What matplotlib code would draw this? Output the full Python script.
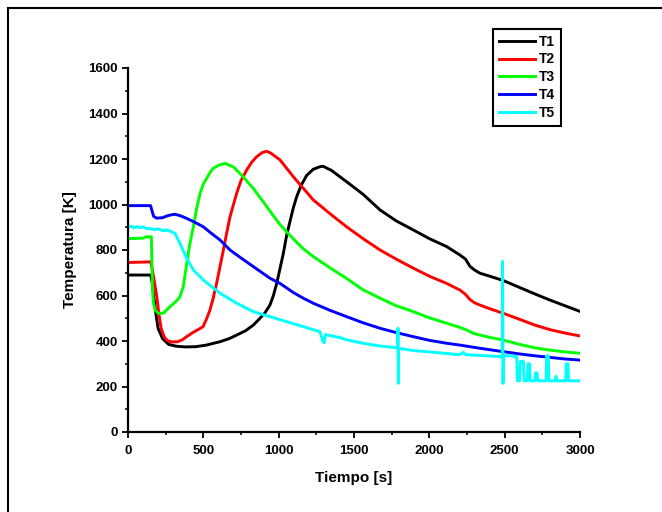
import matplotlib
matplotlib.use("Agg")
import matplotlib.pyplot as plt
from matplotlib.patches import Rectangle
from matplotlib.ticker import MultipleLocator

plt.rcParams['font.family'] = ['Liberation Sans', 'DejaVu Sans']
plt.rcParams['font.weight'] = 'bold'

# Thermocouple readings: (time [s], temperature [K])
T1_points = [(0, 690), (150, 690), (160, 660), (170, 600), (185, 520), (200, 455), (230, 410),
             (270, 385), (320, 377), (380, 374), (450, 375), (520, 382), (611, 397), (670, 410),
             (721, 426), (780, 445), (832, 470), (876, 500), (910, 525), (942, 558), (965, 600),
             (987, 653), (1009, 719), (1031, 785), (1053, 865), (1075, 925), (1097, 985),
             (1120, 1035), (1150, 1085), (1186, 1128), (1230, 1155), (1274, 1166), (1295, 1168),
             (1350, 1150), (1451, 1100), (1560, 1045), (1673, 976), (1780, 928), (1894, 888),
             (2000, 850), (2115, 815), (2203, 778), (2240, 760), (2270, 728), (2300, 712),
             (2336, 698), (2400, 685), (2490, 666), (2600, 635), (2700, 607), (2800, 580),
             (2900, 555), (3000, 530)]

T2_points = [(0, 745), (150, 748), (160, 720), (175, 660), (190, 600), (205, 520), (220, 455),
             (240, 418), (260, 402), (290, 396), (330, 397), (360, 405), (389, 419), (430, 437),
             (470, 452), (498, 463), (520, 495), (544, 536), (566, 590), (588, 653), (610, 725),
             (633, 800), (655, 875), (677, 946), (700, 1000), (721, 1049), (750, 1105),
             (788, 1152), (820, 1185), (854, 1210), (890, 1228), (920, 1234), (950, 1225),
             (980, 1210), (1009, 1196), (1100, 1120), (1230, 1020), (1340, 960), (1451, 902),
             (1560, 850), (1673, 800), (1780, 760), (1894, 720), (2000, 685), (2115, 653),
             (2203, 624), (2240, 605), (2270, 582), (2300, 568), (2336, 558), (2400, 542),
             (2490, 522), (2600, 495), (2700, 470), (2800, 450), (2900, 435), (3000, 422)]

T3_points = [(0, 850), (100, 852), (120, 858), (155, 858), (158, 760), (162, 640), (168, 570),
             (180, 535), (200, 522), (235, 522), (279, 551), (320, 575), (345, 595), (367, 639),
             (390, 741), (411, 829), (434, 902), (455, 980), (478, 1049), (500, 1090),
             (522, 1115), (544, 1140), (566, 1159), (600, 1172), (644, 1181), (700, 1165),
             (760, 1125), (832, 1070), (900, 1010), (960, 955), (1009, 912), (1053, 880),
             (1110, 840), (1164, 805), (1230, 771), (1340, 722), (1451, 675), (1560, 625),
             (1673, 588), (1780, 555), (1894, 529), (2000, 502), (2115, 478), (2203, 460),
             (2250, 448), (2290, 434), (2336, 426), (2400, 416), (2490, 404), (2600, 385),
             (2700, 370), (2800, 360), (2900, 352), (3000, 346)]

T4_points = [(0, 995), (150, 995), (158, 975), (170, 948), (190, 940), (230, 942), (260, 950),
             (290, 955), (312, 957), (350, 950), (389, 939), (434, 925), (500, 902), (550, 875),
             (611, 844), (677, 800), (750, 765), (832, 727), (942, 676), (1009, 653),
             (1100, 612), (1164, 588), (1230, 566), (1340, 535), (1451, 507), (1560, 480),
             (1673, 456), (1780, 437), (1894, 419), (2000, 403), (2115, 390), (2203, 382),
             (2336, 368), (2450, 357), (2600, 343), (2700, 335), (2800, 328), (2900, 321),
             (3000, 316)]

T5_points = [(0, 900), (20, 905), (40, 897), (60, 903), (80, 898), (100, 902), (120, 895),
             (150, 893), (180, 890), (200, 893), (230, 885), (260, 888), (290, 880), (312, 873),
             (345, 829), (390, 763), (434, 712), (500, 668), (611, 610), (721, 566), (832, 529),
             (942, 507), (1053, 485), (1164, 463), (1274, 441), (1296, 395), (1302, 392),
             (1310, 428), (1407, 415), (1451, 405), (1560, 390), (1673, 378), (1790, 370),
             (1792, 456), (1794, 214), (1796, 368), (1894, 358), (2000, 352), (2115, 345),
             (2203, 340), (2225, 350), (2240, 340), (2350, 336), (2456, 332), (2484, 330),
             (2486, 750), (2489, 214), (2492, 335), (2540, 335), (2580, 330), (2584, 225),
             (2600, 225), (2604, 310), (2625, 310), (2629, 225), (2650, 225), (2654, 300),
             (2665, 300), (2669, 225), (2700, 225), (2704, 260), (2715, 260), (2719, 225),
             (2775, 225), (2779, 335), (2790, 335), (2794, 225), (2835, 225), (2840, 245),
             (2845, 225), (2905, 225), (2909, 300), (2920, 300), (2924, 225), (3000, 225)]

series = [T1_points, T2_points, T3_points, T4_points, T5_points]
labels = ['T1', 'T2', 'T3', 'T4', 'T5']
colors = ['#000000', '#ff0000', '#00ff00', '#0000ff', '#00ffff']

x_ticks = [0, 500, 1000, 1500, 2000, 2500, 3000]
y_ticks = [0, 200, 400, 600, 800, 1000, 1200, 1400, 1600]

W, H = 662, 512
fig = plt.figure(figsize=(W / 100, H / 100), dpi=100)
ax = fig.add_axes([128 / W, 1 - 432 / H, 452 / W, 364 / H])

handles = []
for pts, lab, col in zip(series, labels, colors):
    t, v = zip(*pts)
    h, = ax.plot(t, v, color=col, lw=2.1, label=lab)
    handles.append(h)

ax.set_xlim(0, 3000)
ax.set_ylim(0, 1600)
ax.set_xticks(x_ticks)
ax.set_yticks(y_ticks)
ax.xaxis.set_minor_locator(MultipleLocator(250))
ax.yaxis.set_minor_locator(MultipleLocator(100))

for side in ('top', 'right'):
    ax.spines[side].set_visible(False)
for side in ('left', 'bottom'):
    ax.spines[side].set_linewidth(1.6)

ax.tick_params(which='major', direction='out', length=4.5, width=1.3,
               labelsize=9.5, pad=3)
ax.tick_params(axis='x', which='major', pad=5)
ax.tick_params(which='minor', direction='out', length=2.5, width=1.1)

ax.set_xlabel('Tiempo [s]', fontsize=11, fontweight='bold', labelpad=10)
ax.set_ylabel('Temperatura [K]', fontsize=11, fontweight='bold', labelpad=8)

leg = fig.legend(handles, labels, loc='upper left',
                 bbox_to_anchor=(493 / W, 1 - 29 / H), bbox_transform=fig.transFigure,
                 frameon=True, fancybox=False, edgecolor='black', framealpha=1,
                 handlelength=2.6, handletextpad=0.3, labelspacing=0.28,
                 borderpad=0.4, borderaxespad=0,
                 prop={'weight': 'bold', 'size': 10})
leg.get_frame().set_linewidth(1.5)

# outer frame around the graph page
fig.add_artist(Rectangle((8 / W, -0.05), 1.0, 1 - 8 / H + 0.05,
                         transform=fig.transFigure, fill=False,
                         edgecolor='black', lw=1.5, clip_on=False))

fig.savefig('out.png', dpi=100)
